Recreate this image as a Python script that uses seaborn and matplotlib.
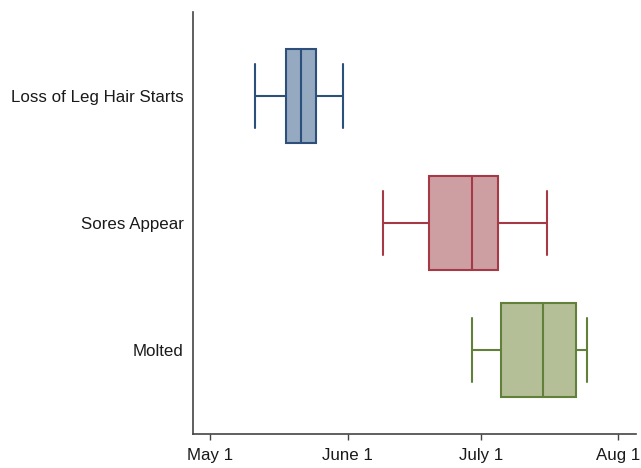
import matplotlib
matplotlib.use("Agg")
import matplotlib.pyplot as plt
import seaborn as sns
import pandas as pd

# Stages and their summary values, in days after May 1
# (lower whisker, Q1, median, Q3, upper whisker)
stages = ["Loss of Leg Hair Starts", "Sores Appear", "Molted"]
leg_hair_days = [10.0, 17.0, 20.5, 23.9, 30.0]
sores_days = [39.0, 49.2, 59.0, 64.9, 76.0]
molted_days = [59.1, 65.6, 75.0, 82.4, 85.0]

edge_colors = ["#2d4f7b", "#a53a46", "#63803a"]
fill_colors = ["#95a9c1", "#cd9ea2", "#b4bf98"]

tick_days = [0, 31, 61, 92]
tick_labels = ["May 1", "June 1", "July 1", "Aug 1"]

df = pd.DataFrame({
    "stage": [s for s, v in zip(stages, [leg_hair_days, sores_days, molted_days]) for _ in v],
    "day": leg_hair_days + sores_days + molted_days,
})

sns.set_style("white")
plt.rcParams["font.family"] = ["Liberation Sans", "DejaVu Sans"]

fig = plt.figure(figsize=(6.41, 4.68), dpi=100)
ax = fig.add_axes([0.3016, 0.0726, 0.690, 0.901])

for stage, ec, fc in zip(stages, edge_colors, fill_colors):
    sub = df[df["stage"] == stage]
    sns.boxplot(
        data=sub, x="day", y="stage", order=stages, ax=ax,
        color=fc, linecolor=ec, saturation=1, width=0.74,
        whis=(0, 100), linewidth=1.5, showfliers=False,
        capwidths=0.5,
    )

ax.set_xlim(-3.83, 95.9)
ax.set_ylim(2.66, -0.66)
ax.set_xticks(tick_days)
ax.set_xticklabels(tick_labels)
ax.set_xlabel("")
ax.set_ylabel("")

for side in ["top", "right"]:
    ax.spines[side].set_visible(False)
for side in ["left", "bottom"]:
    ax.spines[side].set_color("#444444")
    ax.spines[side].set_linewidth(1.2)

ax.tick_params(axis="x", length=4.5, width=1.0, color="#444444", pad=5.5,
               labelsize=12.2, labelcolor="#1a1a1a", bottom=True)
ax.tick_params(axis="y", length=0, pad=7, labelsize=12.2, labelcolor="#1a1a1a")

fig.savefig("out.png", dpi=100)
